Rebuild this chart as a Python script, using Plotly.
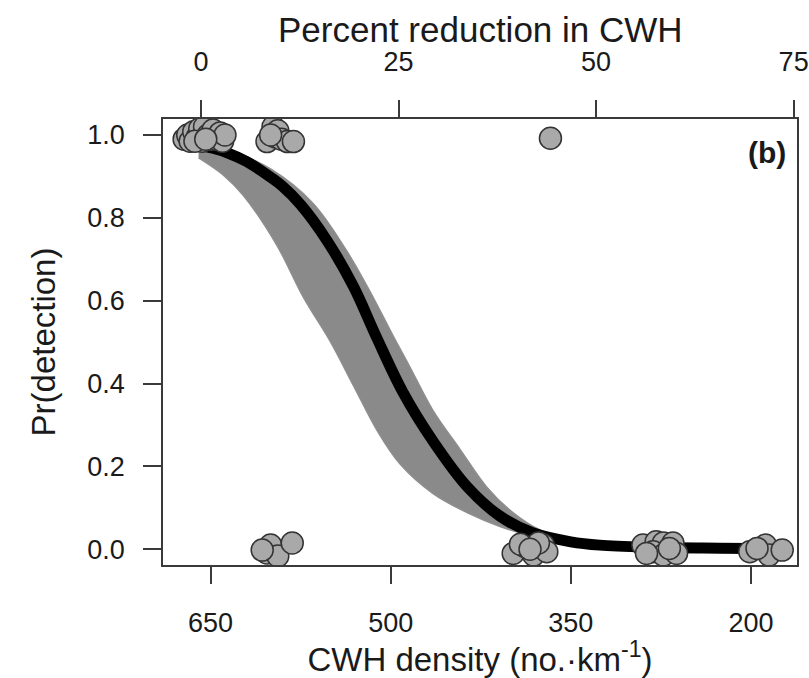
import plotly.graph_objects as go

# ---------------- data ----------------
# fitted mean curve: CWH density (no./km) -> Pr(detection)
curve_density = [660, 648, 636, 620, 600, 590, 575, 553, 531, 512, 490, 465, 436, 409, 382, 350, 326, 280, 240, 200, 185]
curve_prob    = [0.975, 0.968, 0.957, 0.936, 0.898, 0.876, 0.832, 0.745, 0.634, 0.513, 0.380, 0.262, 0.150, 0.080, 0.040, 0.018, 0.010, 0.005, 0.003, 0.002, 0.002]

# credible band edges
band_upper_density = [660, 636, 600, 565, 537, 515, 498, 484, 465, 442, 420, 398, 376, 350, 326, 300]
band_upper_prob    = [0.980, 0.965, 0.918, 0.836, 0.722, 0.610, 0.515, 0.440, 0.336, 0.240, 0.150, 0.088, 0.047, 0.022, 0.012, 0.008]
band_lower_density = [660, 640, 623, 595, 573, 550, 531, 511, 492, 465, 436, 409, 380, 350, 326, 300]
band_lower_prob    = [0.945, 0.905, 0.855, 0.735, 0.610, 0.500, 0.395, 0.285, 0.205, 0.135, 0.088, 0.055, 0.030, 0.015, 0.008, 0.006]

# observed (jittered) detections
obs_density = [672, 669, 667, 664, 661, 659, 657, 655, 652, 650, 648, 645, 642, 640, 638, 663, 654,
               603, 598, 596, 594, 591, 586, 581, 600,
               367,
               603, 600, 594, 582, 607,
               398, 388, 381, 373, 370, 377, 392, 384,
               290, 279, 273, 265, 281.5, 273, 262, 287, 268,
               201, 188, 185, 174, 195]
obs_prob = [0.990, 1.000, 0.985, 1.008, 0.995, 1.015, 0.985, 1.020, 1.000, 0.990, 1.012, 0.990, 1.005, 0.985, 1.000, 0.985, 0.990,
            0.984, 1.020, 0.995, 1.010, 0.990, 0.984, 0.984, 1.000,
            0.992,
            -0.009, 0.010, -0.016, 0.015, -0.002,
            -0.010, 0.006, -0.014, 0.010, -0.006, 0.015, 0.012, 0.000,
            0.010, 0.018, 0.015, 0.015, -0.006, -0.014, -0.010, -0.010, 0.002,
            -0.006, 0.010, -0.014, -0.002, 0.002]

density_ticks = [650, 500, 350, 200]
percent_ticks = [0, 25, 50, 75]
prob_ticks = [0.0, 0.2, 0.4, 0.6, 0.8, 1.0]
density_baseline = 658.0  # density corresponding to 0 % reduction

# ---------------- figure ----------------
FONT = "Liberation Sans, Arial, Helvetica, sans-serif"
TXT = "#1a1a1a"
AX = "#3a3a3a"

x_range = [689.6, 161.7]
pct_range = [(1 - d / density_baseline) * 100 for d in x_range]

fig = go.Figure()

band_x = band_upper_density + band_lower_density[::-1]
band_y = band_upper_prob + band_lower_prob[::-1]
fig.add_trace(go.Scatter(
    x=band_x, y=band_y, mode="lines", fill="toself",
    fillcolor="#8a8a8a", line=dict(color="#8e8e8e", width=1.5, shape="spline", smoothing=1.0),
    hoverinfo="skip", showlegend=False))

fig.add_trace(go.Scatter(
    x=curve_density, y=curve_prob, mode="lines",
    line=dict(color="black", width=11, shape="spline", smoothing=1.0),
    showlegend=False))

fig.add_trace(go.Scatter(
    x=obs_density, y=obs_prob, mode="markers",
    marker=dict(size=22, color="#a9a9a9", line=dict(color="#333333", width=1.5)),
    showlegend=False))

# invisible trace so the top (percent) axis is drawn
fig.add_trace(go.Scatter(
    x=percent_ticks, y=[0.5] * len(percent_ticks), xaxis="x2", yaxis="y",
    mode="markers", marker=dict(size=1, opacity=0), hoverinfo="skip", showlegend=False))

fig.update_layout(
    width=809, height=678,
    margin=dict(l=163, r=12, t=119, b=113),
    paper_bgcolor="white", plot_bgcolor="white",
    font=dict(family=FONT, color=TXT, size=27),
    xaxis=dict(
        range=x_range, tickvals=density_ticks, ticktext=[str(v) for v in density_ticks],
        ticks="outside", ticklen=17, tickwidth=1.5, tickcolor=AX,
        showline=True, linecolor=AX, linewidth=1.5, mirror=True,
        showgrid=False, zeroline=False, ticklabelstandoff=16, automargin=False,
        tickfont=dict(size=27, family=FONT, color=TXT),
        title=dict(text="CWH density (no.·km<sup>-1</sup>)", font=dict(size=33, family=FONT, color=TXT), standoff=2),
    ),
    xaxis2=dict(
        range=pct_range, overlaying="x", side="top", anchor="y",
        tickvals=percent_ticks, ticktext=[str(v) for v in percent_ticks],
        ticks="outside", ticklen=18, tickwidth=1.5, tickcolor=AX,
        showline=False, showgrid=False, zeroline=False, ticklabelstandoff=18, automargin=False,
        tickfont=dict(size=27, family=FONT, color=TXT),
    ),
    yaxis=dict(
        range=[-0.038, 1.0386], tickvals=prob_ticks, ticktext=[f"{v:.1f}" for v in prob_ticks],
        ticks="outside", ticklen=18, tickwidth=1.5, tickcolor=AX,
        showline=True, linecolor=AX, linewidth=1.5, mirror=True,
        showgrid=False, zeroline=False, ticklabelstandoff=13, automargin=False,
        tickfont=dict(size=27, family=FONT, color=TXT),
        title=dict(text="Pr(detection)", font=dict(size=33, family=FONT, color=TXT), standoff=22),
    ),
    annotations=[
        dict(text="Percent reduction in CWH", xref="paper", yref="paper",
             x=0.5, y=(565 - 30) / 446, xanchor="center", yanchor="middle", showarrow=False,
             font=dict(size=35, family=FONT, color=TXT)),
        dict(text="<b>(b)</b>", xref="paper", yref="paper", x=0.986, y=0.926,
             xanchor="right", yanchor="middle", showarrow=False,
             font=dict(size=30, family=FONT, color=TXT)),
    ],
)

fig.write_html(
    "out.html",
    config={"displayModeBar": False},
    post_script="document.body.style.margin='0px';document.body.style.overflow='hidden';",
)
